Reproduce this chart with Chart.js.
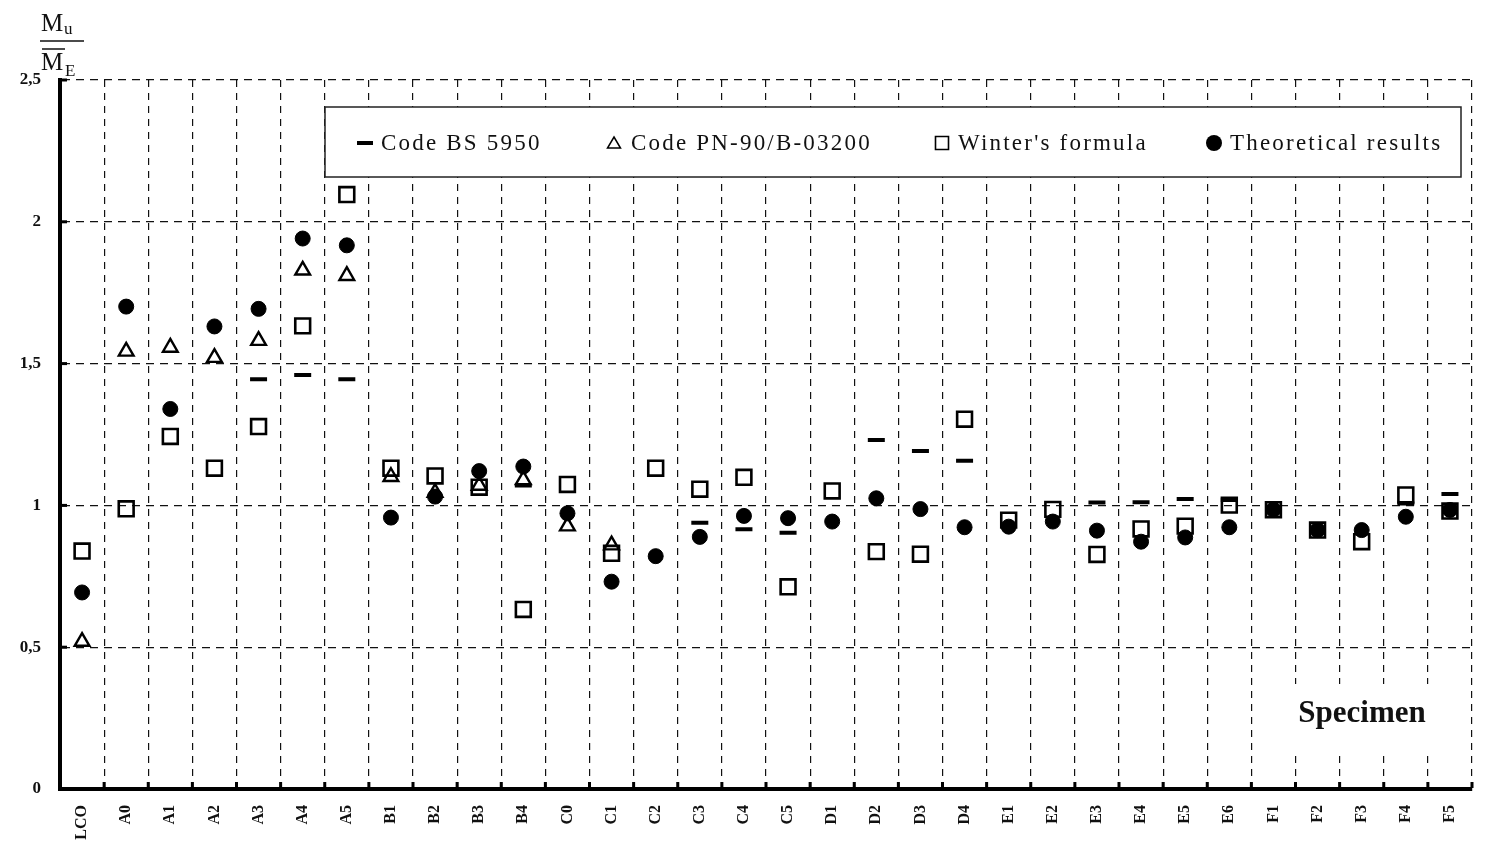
<!DOCTYPE html>
<html>
<head>
<meta charset="utf-8">
<script src="https://cdn.jsdelivr.net/npm/chart.js@4/dist/chart.umd.min.js"></script>
<style>
  html, body { margin: 0; padding: 0; background: #fff; }
  canvas { display: block; }
</style>
</head>
<body>
<canvas id="chart" width="1487" height="847"></canvas>
<script>
// Specimens along the horizontal axis
const categories = ['LCO','A0','A1','A2','A3','A4','A5','B1','B2','B3','B4','C0','C1','C2','C3','C4','C5',
  'D1','D2','D3','D4','E1','E2','E3','E4','E5','E6','F1','F2','F3','F4','F5'];

// Ratio Mu / ME for each specimen (null = no value)
const codeBS5950 = [null, null, null, null, 1.445, 1.46, 1.445,
  null, null, null, 1.07,
  null, null, null, 0.939, 0.916, 0.904,
  null, 1.231, 1.192, 1.157,
  null, null, 1.01, 1.011, 1.023, 1.019,
  null, null, null, 1.007, 1.04];

const codePN90 = [0.52, 1.543, 1.557, 1.521, 1.581, 1.829, 1.81,
  1.101, 1.045, 1.07, 1.09,
  0.927, 0.86, null, null, null, null,
  null, null, null, null,
  null, null, null, null, null, null,
  null, null, null, null, null];

const wintersFormula = [0.839, 0.988, 1.243, 1.131, 1.278, 1.633, 2.096,
  1.131, 1.104, 1.064, 0.633,
  1.074, 0.831, 1.131, 1.057, 1.099, 0.713,
  1.051, 0.837, 0.828, 1.304,
  0.948, 0.986, 0.827, 0.917, 0.927, 1.001,
  0.985, 0.913, 0.872, 1.037, 0.98];

const theoreticalResults = [0.693, 1.701, 1.34, 1.631, 1.693, 1.941, 1.917,
  0.957, 1.031, 1.121, 1.137,
  0.972, 0.731, 0.821, 0.889, 0.963, 0.955,
  0.943, 1.025, 0.987, 0.923,
  0.925, 0.943, 0.911, 0.872, 0.887, 0.923,
  0.985, 0.913, 0.913, 0.96, 0.984];

const yTicks = [0, 0.5, 1, 1.5, 2, 2.5];

const SERIF = '"Liberation Serif", "DejaVu Serif", serif';

// White page background
const background = {
  id: 'background',
  beforeDraw(chart) {
    const ctx = chart.ctx;
    ctx.save();
    ctx.fillStyle = '#fff';
    ctx.fillRect(0, 0, chart.width, chart.height);
    ctx.restore();
  }
};

// Short inner tick stubs on both axes
const innerTicks = {
  id: 'innerTicks',
  afterDatasetsDraw(chart) {
    const { ctx, chartArea, scales } = chart;
    ctx.save();
    ctx.fillStyle = '#000';
    const xs = scales.x;
    const step = xs.getPixelForValue(1) - xs.getPixelForValue(0);
    for (let i = 0; i < categories.length; i++) {
      const px = xs.getPixelForValue(i) + step / 2;
      ctx.fillRect(px - 1.5, chartArea.bottom - 7, 3, 6);
    }
    const ys = scales.y;
    yTicks.forEach(v => {
      if (v === 0) return;
      const py = ys.getPixelForValue(v);
      ctx.fillRect(chartArea.left, py - 1.5, 7, 3);
    });
    ctx.restore();
  }
};

// Legend box, axis title fraction and "Specimen" caption
const annotations = {
  id: 'annotations',
  afterDraw(chart) {
    const ctx = chart.ctx;
    ctx.save();

    // Legend frame
    ctx.fillStyle = '#fff';
    ctx.fillRect(325, 107, 1136, 70);
    ctx.strokeStyle = '#222';
    ctx.lineWidth = 1.5;
    ctx.strokeRect(325, 107, 1136, 70);

    const ds = chart.data.datasets;
    const byLabel = l => ds.find(d => d.label === l);
    const items = [
      { d: byLabel('Code BS 5950'), sx: 365, tx: 381 },
      { d: byLabel('Code PN-90/B-03200'), sx: 614, tx: 631 },
      { d: byLabel("Winter's formula"), sx: 942, tx: 958 },
      { d: byLabel('Theoretical results'), sx: 1214, tx: 1230 }
    ];
    const cy = 143;
    ctx.font = '23px ' + SERIF;
    if ('letterSpacing' in ctx) ctx.letterSpacing = '2.2px';
    ctx.textBaseline = 'middle';
    ctx.textAlign = 'left';
    items.forEach(it => {
      const st = it.d.pointStyle;
      ctx.strokeStyle = '#000';
      ctx.fillStyle = '#000';
      ctx.beginPath();
      if (st === 'line') {
        ctx.lineWidth = 4;
        ctx.moveTo(it.sx - 8, cy);
        ctx.lineTo(it.sx + 8, cy);
        ctx.stroke();
      } else if (st === 'triangle') {
        ctx.lineWidth = 1.5;
        ctx.moveTo(it.sx, cy - 6);
        ctx.lineTo(it.sx + 6.5, cy + 5);
        ctx.lineTo(it.sx - 6.5, cy + 5);
        ctx.closePath();
        ctx.stroke();
      } else if (st === 'rect') {
        ctx.lineWidth = 1.6;
        ctx.rect(it.sx - 6.5, cy - 6.5, 13, 13);
        ctx.stroke();
      } else {
        ctx.arc(it.sx, cy, 8, 0, Math.PI * 2);
        ctx.fill();
      }
      ctx.fillStyle = '#111';
      ctx.fillText(it.d.label, it.tx, cy + 1);
    });
    if ('letterSpacing' in ctx) ctx.letterSpacing = '0px';

    // Axis title: Mu over M-bar E
    ctx.fillStyle = '#111';
    ctx.strokeStyle = '#111';
    ctx.textBaseline = 'alphabetic';
    ctx.font = '25px ' + SERIF;
    ctx.fillText('M', 41, 31);
    ctx.font = '17px ' + SERIF;
    ctx.fillText('u', 64, 34);
    ctx.lineWidth = 1.5;
    ctx.beginPath();
    ctx.moveTo(40, 41); ctx.lineTo(84, 41);
    ctx.moveTo(42, 49); ctx.lineTo(65, 49);
    ctx.stroke();
    ctx.font = '25px ' + SERIF;
    ctx.fillText('M', 41, 70);
    ctx.font = '17px ' + SERIF;
    ctx.fillText('E', 65, 76);

    // Caption inside the plot
    ctx.fillStyle = '#fff';
    ctx.fillRect(1288, 684, 150, 70);
    ctx.fillStyle = '#111';
    ctx.font = 'bold 31px ' + SERIF;
    ctx.textAlign = 'center';
    ctx.fillText('Specimen', 1362, 722);

    ctx.restore();
  }
};

const markerBase = {
  showLine: false,
  borderColor: '#000',
  pointBorderColor: '#000',
  pointHoverRadius: 0
};

new Chart(document.getElementById('chart'), {
  type: 'line',
  data: {
    labels: categories,
    datasets: [
      Object.assign({}, markerBase, {
        label: 'Code BS 5950', data: codeBS5950, order: 0,
        pointStyle: 'line', pointRadius: 8.5, pointBorderWidth: 4,
        pointBackgroundColor: '#000'
      }),
      Object.assign({}, markerBase, {
        label: 'Theoretical results', data: theoreticalResults, order: 1,
        pointStyle: 'circle', pointRadius: 7.5, pointBorderWidth: 1,
        pointBackgroundColor: '#000'
      }),
      Object.assign({}, markerBase, {
        label: 'Code PN-90/B-03200', data: codePN90, order: 2,
        pointStyle: 'triangle', pointRadius: 8.5, pointBorderWidth: 2.4,
        pointBackgroundColor: 'rgba(0,0,0,0)'
      }),
      Object.assign({}, markerBase, {
        label: "Winter's formula", data: wintersFormula, order: 3,
        pointStyle: 'rect', pointRadius: 10.5, pointBorderWidth: 2.6,
        pointBackgroundColor: 'rgba(0,0,0,0)'
      })
    ]
  },
  options: {
    responsive: false,
    animation: false,
    events: [],
    layout: { padding: { top: 80, right: 15, left: 0, bottom: 0 } },
    plugins: {
      legend: { display: false },
      tooltip: { enabled: false },
      title: { display: false }
    },
    scales: {
      x: {
        offset: true,
        grid: { offset: true, color: '#111', lineWidth: 1.2, drawTicks: false },
        border: { display: true, color: '#000', width: 4, dash: [7, 6] },
        ticks: {
          autoSkip: false,
          maxRotation: 90, minRotation: 90,
          padding: 16,
          color: '#111',
          font: { family: SERIF, weight: 'bold', size: 16 }
        },
        afterFit(scale) { scale.height = 58; }
      },
      y: {
        min: 0, max: 2.5,
        afterBuildTicks(scale) { scale.ticks = yTicks.map(v => ({ value: v })); },
        grid: { color: '#111', lineWidth: 1.2, drawTicks: false },
        border: { display: true, color: '#000', width: 4, dash: [8, 6] },
        ticks: {
          padding: 19,
          color: '#111',
          font: { family: SERIF, weight: 'bold', size: 17 },
          callback: v => String(v).replace('.', ',')
        },
        afterFit(scale) { scale.width = 60; }
      }
    }
  },
  plugins: [background, innerTicks, annotations]
});
</script>
</body>
</html>
